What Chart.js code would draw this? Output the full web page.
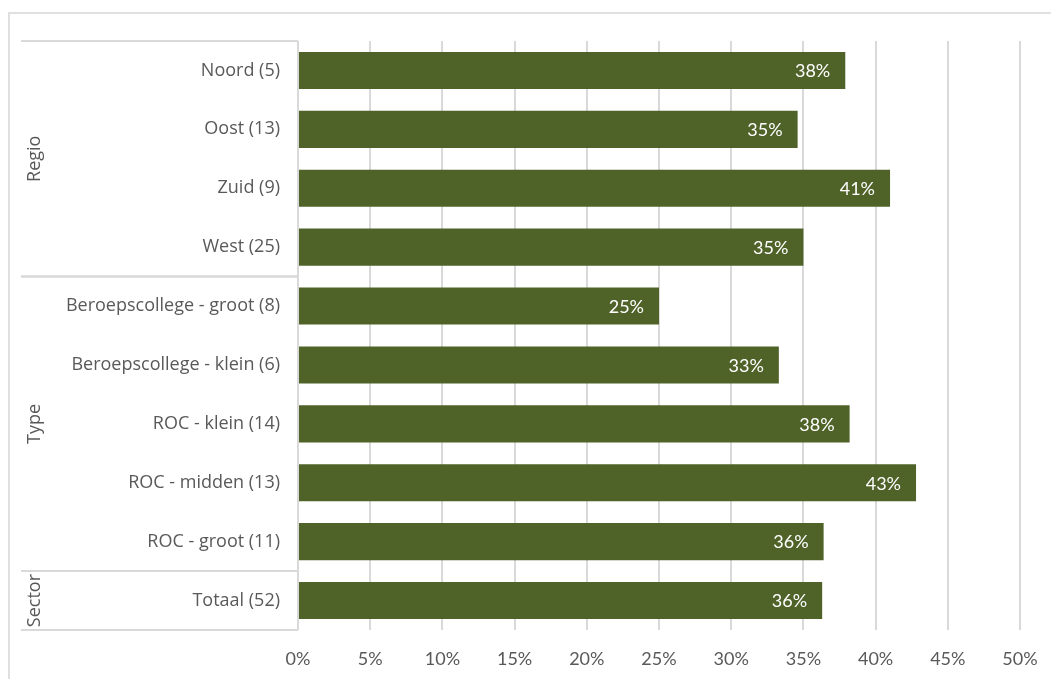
<!DOCTYPE html>
<html>
<head>
<meta charset="utf-8">
<script src="https://cdn.jsdelivr.net/npm/chart.js@4.4.1/dist/chart.umd.min.js"></script>
<style>
	body { margin: 0; background: #fff; overflow: hidden; }
	#frame { position: absolute; left: 8px; top: 12px; width: 1100px; height: 700px; border: 2px solid #e0e0e0; border-right: none; border-bottom: none; }
	#wrap { position: absolute; left: 0; top: 0; width: 1051px; height: 679px; }
</style>
</head>
<body>
<div id="frame"></div>
<div id="wrap"><canvas id="myChart" width="1051" height="679"></canvas></div>
<script>
const categories = [
	'Noord (5)',
	'Oost (13)',
	'Zuid (9)',
	'West (25)',
	'Beroepscollege - groot (8)',
	'Beroepscollege - klein (6)',
	'ROC - klein (14)',
	'ROC - midden (13)',
	'ROC - groot (11)',
	'Totaal (52)'
];
const values = [37.9, 34.6, 41.0, 35.0, 25.0, 33.3, 38.2, 42.8, 36.4, 36.3];
const groups = ['Regio', 'Type', 'Sector'];
const groupSizes = [4, 5, 1];
const tickLabels = [0, 5, 10, 15, 20, 25, 30, 35, 40, 45, 50];

const gridColor = '#d9d9d9';
const textColor = '#595959';

// group frame + rotated group names on the left
const groupAxis = {
	id: 'groupAxis',
	afterDraw(chart) {
		const { ctx, chartArea } = chart;
		const yScale = chart.scales.y;
		const step = yScale.getPixelForValue(1) - yScale.getPixelForValue(0);
		const x0 = 21;
		ctx.save();
		ctx.strokeStyle = gridColor;
		ctx.lineWidth = 2;
		ctx.beginPath();
		ctx.moveTo(chartArea.left, chartArea.top);
		ctx.lineTo(chartArea.left, chartArea.bottom);
		ctx.stroke();
		let start = 0;
		groups.forEach((name, gi) => {
			const end = start + groupSizes[gi] - 1;
			const top = yScale.getPixelForValue(start) - step / 2;
			const bottom = yScale.getPixelForValue(end) + step / 2;
			ctx.beginPath();
			ctx.moveTo(x0, top);
			ctx.lineTo(chartArea.left, top);
			ctx.moveTo(x0, bottom);
			ctx.lineTo(chartArea.left, bottom);
			ctx.stroke();
			ctx.save();
			ctx.translate(35, (top + bottom) / 2);
			ctx.rotate(-Math.PI / 2);
			ctx.fillStyle = textColor;
			ctx.font = '18px "Open Sans"';
			ctx.textAlign = 'center';
			ctx.textBaseline = 'middle';
			ctx.fillText(name, 0, 0);
			ctx.restore();
			start = end + 1;
		});
		ctx.restore();
	}
};

// value labels inside the bar end
const barLabels = {
	id: 'barLabels',
	afterDatasetsDraw(chart) {
		const { ctx } = chart;
		const meta = chart.getDatasetMeta(0);
		ctx.save();
		ctx.fillStyle = '#ffffff';
		ctx.font = '18px Lato';
		ctx.textAlign = 'right';
		ctx.textBaseline = 'middle';
		meta.data.forEach((bar, i) => {
			ctx.fillText(Math.round(values[i]) + '%', bar.x - 15, bar.y + 1);
		});
		ctx.restore();
	}
};

const ctx = document.getElementById('myChart');
const myChart = new Chart(ctx, {
	type: 'bar',
	data: {
		labels: categories,
		datasets: [
			{
				data: values,
				backgroundColor: '#4f6228',
				borderWidth: 0,
				barPercentage: 0.63,
				categoryPercentage: 1
			}
		]
	},
	options: {
		indexAxis: 'y',
		responsive: false,
		animation: false,
		layout: {
			padding: { top: 41, right: 31, left: 0, bottom: 0 }
		},
		scales: {
			x: {
				min: tickLabels[0],
				max: tickLabels[tickLabels.length - 1],
				afterBuildTicks(scale) {
					scale.ticks = tickLabels.map(v => ({ value: v }));
				},
				afterFit(scale) {
					scale.height = 49;
					scale.paddingLeft = 0;
					scale.paddingRight = 0;
				},
				ticks: {
					callback: v => v + '%',
					color: textColor,
					font: { family: 'Lato', size: 18 },
					padding: 18,
					maxRotation: 0
				},
				grid: {
					color: gridColor,
					lineWidth: 2,
					drawTicks: false
				},
				border: { display: false }
			},
			y: {
				afterFit(scale) {
					scale.width = 298;
				},
				ticks: {
					color: textColor,
					font: { family: 'Open Sans', size: 18 },
					padding: 18
				},
				grid: { display: false, drawTicks: false },
				border: { display: false }
			}
		},
		plugins: {
			legend: { display: false },
			tooltip: { enabled: false }
		}
	},
	plugins: [groupAxis, barLabels]
});
</script>
</body>
</html>
